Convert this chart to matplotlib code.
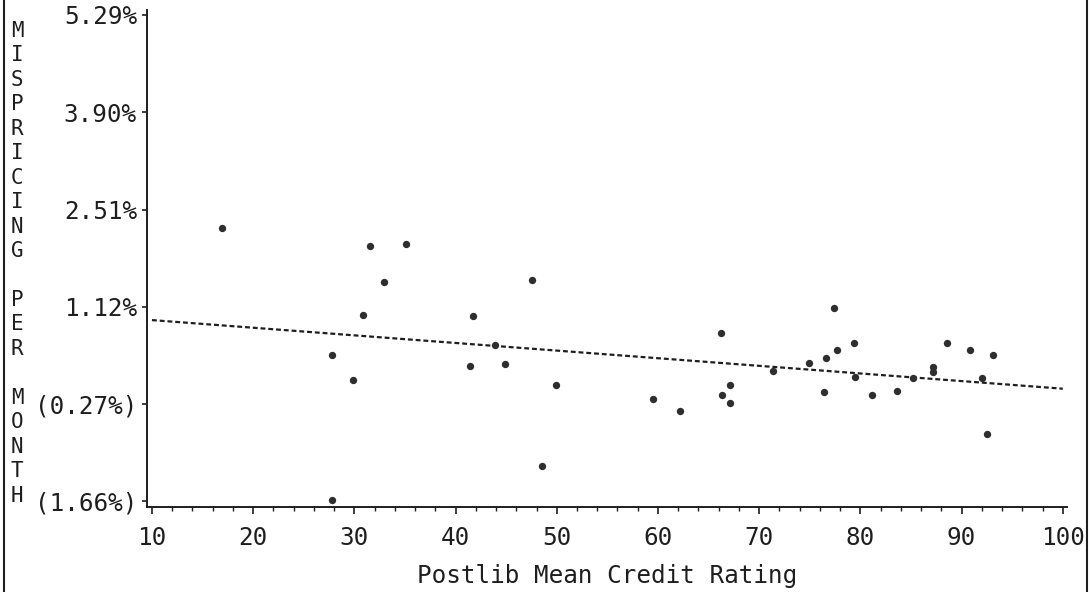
import numpy as np
import matplotlib
matplotlib.use('Agg')
import matplotlib.pyplot as plt
from matplotlib.lines import Line2D
from matplotlib.ticker import MultipleLocator

# data
credit_rating = [16.9, 31.5, 35.1, 32.9, 30.9, 41.7, 47.6, 27.8, 29.9, 41.4,
                 44.9, 43.9, 49.9, 48.5, 27.8, 77.4, 66.2, 59.5, 62.2, 66.3,
                 67.1, 67.1, 71.4, 74.9, 76.6, 77.7, 79.4, 79.5, 76.4, 81.2,
                 83.6, 85.2, 87.2, 87.2, 88.6, 90.8, 93.1, 92.0, 92.5]
mispricing = [2.25, 1.99, 2.02, 1.47, 1.01, 0.99, 1.51, 0.43, 0.08, 0.27,
              0.30, 0.57, 0.01, -1.15, -1.64, 1.10, 0.75, -0.20, -0.37, -0.14,
              0.00, -0.26, 0.21, 0.32, 0.39, 0.51, 0.60, 0.12, -0.10, -0.14,
              -0.08, 0.11, 0.26, 0.19, 0.60, 0.51, 0.43, 0.11, -0.69]

fit_x = [10, 100]
fit_y = [0.93, -0.05]

y_ticks = [5.29, 3.90, 2.51, 1.12, -0.27, -1.66]
y_labels = ['5.29%', '3.90%', '2.51%', '1.12%', '(0.27%)', '(1.66%)']
x_ticks = [10, 20, 30, 40, 50, 60, 70, 80, 90, 100]

y_title = 'MISPRICING PER MONTH'
x_title = 'Postlib Mean Credit Rating'

ink = '#1e1e1e'
font = 'DejaVu Sans Mono'

fig = plt.figure(figsize=(10.89, 5.92), dpi=100)
ax = fig.add_axes([147.4 / 1089, 85 / 592, 919.4 / 1089, 497 / 592])

ax.scatter(credit_rating, mispricing, s=28, color='#2e2e2e', zorder=3, linewidths=0)
ax.plot(fit_x, fit_y, color=ink, lw=1.6, linestyle=(0, (2.2, 1.3)))

ax.set_xlim(9.55, 100.4)
ax.set_ylim(-1.74, 5.36)

ax.set_xticks(x_ticks)
ax.set_xticklabels([str(v) for v in x_ticks], fontfamily=font, fontsize=17.5, color=ink)
ax.xaxis.set_minor_locator(MultipleLocator(2))
ax.set_yticks(y_ticks)
ax.set_yticklabels(y_labels, fontfamily=font, fontsize=17.5, color=ink)

ax.tick_params(axis='x', which='major', length=5, width=1.2, pad=9, colors=ink)
ax.tick_params(axis='x', which='minor', length=3, width=1.0, colors=ink)
ax.tick_params(axis='y', which='major', length=3.5, width=1.2, pad=4, colors=ink)

for side in ['top', 'right']:
    ax.spines[side].set_visible(False)
for side in ['left', 'bottom']:
    ax.spines[side].set_linewidth(1.4)
    ax.spines[side].set_color(ink)
ax.patch.set_alpha(0)

ax.set_xlabel(x_title, fontfamily=font, fontsize=17.5, color=ink, labelpad=10)

# stacked vertical axis title, one letter per row
pitch = 24.45 / 592
for i, ch in enumerate(y_title):
    if ch != ' ':
        fig.text(17 / 1089, 1 - 31 / 592 - i * pitch, ch, fontfamily=font,
                 fontsize=15, color=ink, ha='center', va='center')

# page frame edges
fig.add_artist(Line2D([4 / 1089, 4 / 1089], [0, 1], color=ink, lw=1.5))
fig.add_artist(Line2D([1087 / 1089, 1087 / 1089], [0, 1], color=ink, lw=1.5))

fig.savefig('out.png', dpi=100)
